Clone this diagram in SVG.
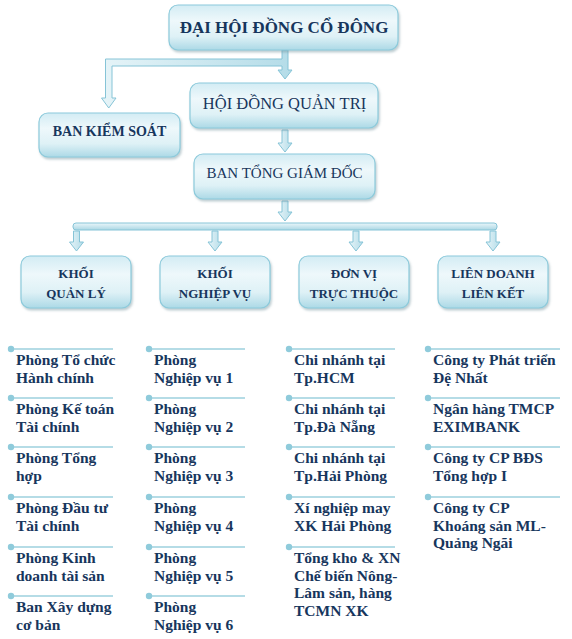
<svg xmlns="http://www.w3.org/2000/svg" width="572" height="639" viewBox="0 0 572 639">
<defs>
<linearGradient id="boxg" x1="0" y1="0" x2="0" y2="1">
<stop offset="0" stop-color="#d3ecf4"/>
<stop offset="0.35" stop-color="#eef8fb"/>
<stop offset="0.7" stop-color="#def1f6"/>
<stop offset="1" stop-color="#acd9e6"/>
</linearGradient>
<linearGradient id="arrg" x1="0" y1="0" x2="1" y2="0">
<stop offset="0" stop-color="#e6f4f8"/>
<stop offset="1" stop-color="#b4dce8"/>
</linearGradient>
<linearGradient id="barg" x1="0" y1="0" x2="0" y2="1">
<stop offset="0" stop-color="#eaf6fa"/>
<stop offset="1" stop-color="#aad7e4"/>
</linearGradient>
<filter id="sh" x="-10%" y="-10%" width="125%" height="135%">
<feDropShadow dx="1.2" dy="2" stdDeviation="1.2" flood-color="#6f8f99" flood-opacity="0.45"/>
</filter>
</defs>
<style>
.box{fill:url(#boxg);stroke:#8ccadb;stroke-width:1.2;filter:url(#sh)}
.t{font-family:"Liberation Serif","Times New Roman",serif;fill:#17365d;text-anchor:middle}
.b{font-weight:bold}
.arr{fill:url(#arrg);stroke:#86c4d7;stroke-width:1;stroke-linejoin:miter}
.bar{fill:url(#barg);stroke:#86c4d7;stroke-width:1}
.dot{fill:#8fcbdb}
.rule{stroke:#9dd0de;stroke-width:1.6}
.li{font-family:"Liberation Serif","Times New Roman",serif;font-weight:bold;font-size:15.5px;fill:#17365d}
</style>

<g id="connectors">
<path class="arr" d="M282,50 V59 H105.5 V98 H101.5 L108.75,108 L116,98 H112 V66 H282 V70 H278 L285,79 L292,70 H288 V50 Z"/>
<path class="arr" d="M282,130 V143 H278 L285,152 L292,143 H288 V130 Z"/>
<path class="arr" d="M282,201 V212 H278 L285,221 L292,212 H288 V201 Z"/>
<rect class="bar" x="73" y="223" width="424" height="7" rx="3"/>
<path class="arr" d="M73.5,231 V242 H69.5 L76.5,251 L83.5,242 H79.5 V231 Z"/>
<path class="arr" d="M212,231 V242 H208 L215,251 L222,242 H218 V231 Z"/>
<path class="arr" d="M353,231 V242 H349 L356,251 L363,242 H359 V231 Z"/>
<path class="arr" d="M490,231 V242 H486 L493,251 L500,242 H496 V231 Z"/>
</g>

<g id="n-dhdcd">
<rect class="box" x="169" y="5" width="229" height="45" rx="9"/>
<text class="t b" x="284" y="33" font-size="17">ĐẠI HỘI ĐỒNG CỔ ĐÔNG</text>
</g>
<g id="n-hdqt">
<rect class="box" x="190" y="83" width="188" height="45" rx="9"/>
<text class="t" x="284.5" y="108.5" font-size="16.5">HỘI ĐỒNG QUẢN TRỊ</text>
</g>
<g id="n-bks">
<rect class="box" x="39" y="113" width="141" height="44" rx="9"/>
<text class="t b" x="109.5" y="135.5" font-size="14">BAN KIỂM SOÁT</text>
</g>
<g id="n-btgd">
<rect class="box" x="194" y="154" width="181" height="45" rx="9"/>
<text class="t" x="284.5" y="177.5" font-size="15">BAN TỔNG GIÁM ĐỐC</text>
</g>

<g id="n-khoi-quan-ly">
<rect class="box" x="21" y="256" width="110" height="52" rx="9"/>
<text class="t b" x="76" y="278" font-size="13">KHỐI</text>
<text class="t b" x="76" y="297.5" font-size="13">QUẢN LÝ</text>
</g>
<g id="n-khoi-nghiep-vu">
<rect class="box" x="160" y="256" width="110" height="52" rx="9"/>
<text class="t b" x="215" y="278" font-size="13">KHỐI</text>
<text class="t b" x="215" y="297.5" font-size="13">NGHIỆP VỤ</text>
</g>
<g id="n-don-vi">
<rect class="box" x="299" y="256" width="110" height="52" rx="9"/>
<text class="t b" x="354" y="278" font-size="13">ĐƠN VỊ</text>
<text class="t b" x="354" y="297.5" font-size="13">TRỰC THUỘC</text>
</g>
<g id="n-lien-doanh">
<rect class="box" x="438" y="256" width="110" height="52" rx="9"/>
<text class="t b" x="493" y="278" font-size="13">LIÊN DOANH</text>
<text class="t b" x="493" y="297.5" font-size="13">LIÊN KẾT</text>
</g>

<!-- Column 1 -->
<g id="c1-1"><line class="rule" x1="11" y1="349" x2="113" y2="349"/><circle class="dot" cx="11" cy="349" r="3.2"/><text class="li" x="16" y="365">Phòng Tổ chức</text><text class="li" x="16" y="382.5">Hành chính</text></g>
<g id="c1-2"><line class="rule" x1="11" y1="398" x2="113" y2="398"/><circle class="dot" cx="11" cy="398" r="3.2"/><text class="li" x="16" y="414">Phòng Kế toán</text><text class="li" x="16" y="431.5">Tài chính</text></g>
<g id="c1-3"><line class="rule" x1="11" y1="447" x2="113" y2="447"/><circle class="dot" cx="11" cy="447" r="3.2"/><text class="li" x="16" y="463">Phòng Tổng</text><text class="li" x="16" y="480.5">hợp</text></g>
<g id="c1-4"><line class="rule" x1="11" y1="497" x2="113" y2="497"/><circle class="dot" cx="11" cy="497" r="3.2"/><text class="li" x="16" y="513">Phòng Đầu tư</text><text class="li" x="16" y="530.5">Tài chính</text></g>
<g id="c1-5"><line class="rule" x1="11" y1="547" x2="113" y2="547"/><circle class="dot" cx="11" cy="547" r="3.2"/><text class="li" x="16" y="563">Phòng Kinh</text><text class="li" x="16" y="580.5">doanh tài sản</text></g>
<g id="c1-6"><line class="rule" x1="11" y1="596" x2="113" y2="596"/><circle class="dot" cx="11" cy="596" r="3.2"/><text class="li" x="16" y="612">Ban Xây dựng</text><text class="li" x="16" y="629.5">cơ bản</text></g>

<!-- Column 2 -->
<g id="c2-1"><line class="rule" x1="149" y1="349" x2="245" y2="349"/><circle class="dot" cx="149" cy="349" r="3.2"/><text class="li" x="154" y="365">Phòng</text><text class="li" x="154" y="382.5">Nghiệp vụ 1</text></g>
<g id="c2-2"><line class="rule" x1="149" y1="398" x2="245" y2="398"/><circle class="dot" cx="149" cy="398" r="3.2"/><text class="li" x="154" y="414">Phòng</text><text class="li" x="154" y="431.5">Nghiệp vụ 2</text></g>
<g id="c2-3"><line class="rule" x1="149" y1="447" x2="245" y2="447"/><circle class="dot" cx="149" cy="447" r="3.2"/><text class="li" x="154" y="463">Phòng</text><text class="li" x="154" y="480.5">Nghiệp vụ 3</text></g>
<g id="c2-4"><line class="rule" x1="149" y1="497" x2="245" y2="497"/><circle class="dot" cx="149" cy="497" r="3.2"/><text class="li" x="154" y="513">Phòng</text><text class="li" x="154" y="530.5">Nghiệp vụ 4</text></g>
<g id="c2-5"><line class="rule" x1="149" y1="547" x2="245" y2="547"/><circle class="dot" cx="149" cy="547" r="3.2"/><text class="li" x="154" y="563">Phòng</text><text class="li" x="154" y="580.5">Nghiệp vụ 5</text></g>
<g id="c2-6"><line class="rule" x1="149" y1="596" x2="245" y2="596"/><circle class="dot" cx="149" cy="596" r="3.2"/><text class="li" x="154" y="612">Phòng</text><text class="li" x="154" y="629.5">Nghiệp vụ 6</text></g>

<!-- Column 3 -->
<g id="c3-1"><line class="rule" x1="289" y1="349" x2="395" y2="349"/><circle class="dot" cx="289" cy="349" r="3.2"/><text class="li" x="294" y="365">Chi nhánh tại</text><text class="li" x="294" y="382.5">Tp.HCM</text></g>
<g id="c3-2"><line class="rule" x1="289" y1="398" x2="395" y2="398"/><circle class="dot" cx="289" cy="398" r="3.2"/><text class="li" x="294" y="414">Chi nhánh tại</text><text class="li" x="294" y="431.5">Tp.Đà Nẵng</text></g>
<g id="c3-3"><line class="rule" x1="289" y1="447" x2="395" y2="447"/><circle class="dot" cx="289" cy="447" r="3.2"/><text class="li" x="294" y="463">Chi nhánh tại</text><text class="li" x="294" y="480.5">Tp.Hải Phòng</text></g>
<g id="c3-4"><line class="rule" x1="289" y1="497" x2="395" y2="497"/><circle class="dot" cx="289" cy="497" r="3.2"/><text class="li" x="294" y="513">Xí nghiệp may</text><text class="li" x="294" y="530.5">XK Hải Phòng</text></g>
<g id="c3-5"><line class="rule" x1="289" y1="547" x2="395" y2="547"/><circle class="dot" cx="289" cy="547" r="3.2"/><text class="li" x="294" y="563">Tổng kho &amp; XN</text><text class="li" x="294" y="580.5">Chế biến Nông-</text><text class="li" x="294" y="598">Lâm sản, hàng</text><text class="li" x="294" y="615.5">TCMN XK</text></g>

<!-- Column 4 -->
<g id="c4-1"><line class="rule" x1="428" y1="349" x2="560" y2="349"/><circle class="dot" cx="428" cy="349" r="3.2"/><text class="li" x="433" y="365">Công ty Phát triển</text><text class="li" x="433" y="382.5">Đệ Nhất</text></g>
<g id="c4-2"><line class="rule" x1="428" y1="398" x2="560" y2="398"/><circle class="dot" cx="428" cy="398" r="3.2"/><text class="li" x="433" y="414">Ngân hàng TMCP</text><text class="li" x="433" y="431.5">EXIMBANK</text></g>
<g id="c4-3"><line class="rule" x1="428" y1="447" x2="560" y2="447"/><circle class="dot" cx="428" cy="447" r="3.2"/><text class="li" x="433" y="463">Công ty CP BĐS</text><text class="li" x="433" y="480.5">Tổng hợp I</text></g>
<g id="c4-4"><line class="rule" x1="428" y1="497" x2="560" y2="497"/><circle class="dot" cx="428" cy="497" r="3.2"/><text class="li" x="433" y="513">Công ty CP</text><text class="li" x="433" y="530.5">Khoáng sản ML-</text><text class="li" x="433" y="548">Quảng Ngãi</text></g>
</svg>
